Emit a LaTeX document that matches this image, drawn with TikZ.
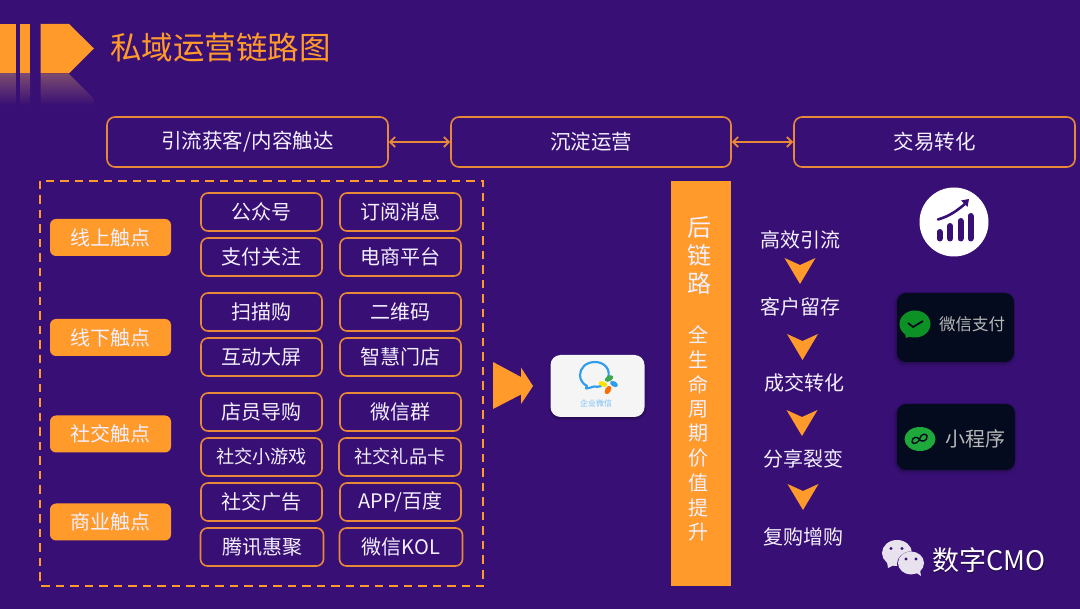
\documentclass[tikz,border=0pt]{standalone}
\usepackage{fontspec}
\setmainfont{Noto Sans CJK SC}
\usetikzlibrary{arrows.meta,shadows.blur}
\definecolor{bg}{HTML}{380F75}
\definecolor{org}{HTML}{FF9A2B}
\definecolor{edgeorg}{HTML}{E8893A}
\definecolor{txt}{HTML}{F4F0FF}
\definecolor{tile}{HTML}{040B1E}
\definecolor{wgreen}{HTML}{0C9124}
\definecolor{mgreen}{HTML}{1FA83C}
\definecolor{wblue}{HTML}{2E9BEE}
\definecolor{refl}{HTML}{7A4A70}
\tikzset{
 topbox/.style={draw=edgeorg,line width=1.6pt,rounded corners=8pt,minimum width=281pt,minimum height=50pt,inner sep=0pt,text=txt,font=\fontsize{20.5}{24}\selectfont},
 sbox/.style={draw=edgeorg,line width=1.6pt,rounded corners=7pt,minimum width=121pt,minimum height=38pt,inner sep=0pt,text=txt,font=\fontsize{20}{24}\selectfont},
 touch/.style={fill=org,rounded corners=6pt,minimum width=121pt,minimum height=37pt,inner sep=0pt,text=txt,font=\fontsize{20}{24}\selectfont},
 step label/.style={text=txt,inner sep=0pt,font=\fontsize{20}{24}\selectfont},
 chev/.style={fill=org,draw=none},
 bartxt/.style={text=txt,inner sep=0pt,font=\fontsize{20}{24}\selectfont},
 barbig/.style={text=txt,inner sep=0pt,font=\fontsize{24}{28}\selectfont},
 smallfont/.style={font=\fontsize{18.2}{22}\selectfont},
 linkarrow/.style={draw=edgeorg,line width=1.9pt,{Straight Barb[length=5pt,width=10pt]}-{Straight Barb[length=5pt,width=10pt]}},
 tileshadow/.style={blur shadow={shadow blur steps=6,shadow xshift=-1pt,shadow yshift=-1.5pt,shadow blur radius=3pt}}
}
\begin{document}
\begin{tikzpicture}[x=1pt,y=-1pt]
\useasboundingbox (0,0) rectangle (1080,609);
\fill[bg] (0,0) rectangle (1080,609);
% header mark
\fill[org] (0,24) rectangle (15.5,73.5);
\fill[org] (20,24) rectangle (30,73.5);
\fill[org] (40.5,24) -- (69,24) -- (94,48.5) -- (69,73.5) -- (40.5,73.5) -- cycle;
\shade[top color=refl,bottom color=bg] (0,74) rectangle (15.5,105);
\shade[top color=refl,bottom color=bg] (20,74) rectangle (30,105);
\shade[top color=refl,bottom color=bg] (40.5,74) -- (69,74) -- (94,99) -- (94,105) -- (40.5,105) -- cycle;
\node[text=org,inner sep=0pt,anchor=west,font=\fontsize{31.5}{36}\selectfont] (title) at (110,47.5) {私域运营链路图};
% top row
\node[topbox] (t1) at (247.5,142) {\raisebox{-1pt}{引流获客/内容触达}};
\node[topbox,minimum width=280pt] (t2) at (591,142) {\raisebox{-1pt}{沉淀运营}};
\node[topbox] (t3) at (934.5,142) {\raisebox{-1pt}{交易转化}};
\draw[linkarrow] (t1) -- (t2);
\draw[linkarrow] (t2) -- (t3);
% dashed frame
\draw[org,line width=1.6pt,dash pattern=on 8.5pt off 6pt] (40,181) rectangle (483,586);
% touch labels
\node[touch] (n1) at (110.5,237.5) {线上触点};
\node[touch] (n2) at (110.5,337.5) {线下触点};
\node[touch] (n3) at (110.5,434) {社交触点};
\node[touch] (n4) at (110.5,522) {商业触点};
% small boxes
\node[sbox] (a1) at (261.5,212) {公众号};
\node[sbox] (b1) at (400.5,212) {订阅消息};
\node[sbox] (a2) at (261.5,257) {支付关注};
\node[sbox] (b2) at (400.5,257) {电商平台};
\node[sbox] (a3) at (261.5,312) {扫描购};
\node[sbox] (b3) at (400.5,312) {二维码};
\node[sbox] (a4) at (261.5,357) {互动大屏};
\node[sbox] (b4) at (400.5,357) {智慧门店};
\node[sbox] (a5) at (261.5,412) {店员导购};
\node[sbox] (b5) at (400.5,412) {微信群};
\node[sbox,smallfont] (a6) at (261.5,457) {社交小游戏};
\node[sbox,smallfont,minimum width=122pt] (b6) at (400,457) {社交礼品卡};
\node[sbox] (a7) at (261.5,502) {社交广告};
\node[sbox] (b7) at (400.5,502) {APP/百度};
\node[sbox,minimum width=123pt] (a8) at (262,547) {腾讯惠聚};
\node[sbox,minimum width=123pt] (b8) at (401,547) {微信KOL};
% big arrow
\fill[org] (493,362) -- (521,377) -- (521,367.5) -- (533,386) -- (521,404) -- (521,394.5) -- (493,409) -- cycle;
% WeCom tile
\node[fill=white!96!black,rounded corners=10pt,minimum width=94pt,minimum height=62pt,inner sep=0pt,blur shadow={shadow blur steps=5,shadow xshift=0pt,shadow yshift=-1.5pt,shadow blur radius=2.5pt}] (wecom) at (597.5,386) {};
\draw[wblue,line width=2.1pt,line cap=round,line join=round] (608,378) .. controls (611,369) and (604,362) .. (595,362) .. controls (586,362) and (580,368) .. (580,375) .. controls (580,380) and (583,384) .. (587,386) -- (586,388.5) .. controls (590,388) and (592,387) .. (594,386.5) .. controls (596,387) and (599,387) .. (601,386);
\fill[wgreen!80!white,rotate around={30:(609,378.5)}] (609,378.5) ellipse (4.5 and 2.8);
\fill[yellow!85!orange,rotate around={-20:(603,384)}] (603,384) ellipse (4.5 and 2.6);
\fill[wblue,rotate around={-30:(614,384)}] (614,384) ellipse (4.2 and 2.6);
\fill[orange!85!red,rotate around={60:(608,390)}] (608,390) ellipse (4.5 and 2.8);
\node[text=wblue!65!white,inner sep=0pt,font=\fontsize{8}{9}\selectfont] (wecomtxt) at (596,403.5) {企业微信};
% orange bar
\fill[org] (671,181) rectangle (731,586);
\node[barbig] (h1) at (699,228) {后};
\node[barbig] (h2) at (699,255.5) {链};
\node[barbig] (h3) at (699,283) {路};
\node[bartxt] (v1) at (698,335) {全};
\node[bartxt] (v2) at (698,360) {生};
\node[bartxt] (v3) at (698,384.5) {命};
\node[bartxt] (v4) at (698,409) {周};
\node[bartxt] (v5) at (698,433.5) {期};
\node[bartxt] (v6) at (698,458) {价};
\node[bartxt] (v7) at (698,483) {值};
\node[bartxt] (v8) at (698,507.5) {提};
\node[bartxt] (v9) at (698,532) {升};
% steps
\node[step label] (s1) at (800,239.5) {高效引流};
\node[step label] (s2) at (800,306.5) {客户留存};
\node[step label] (s3) at (804,382.5) {成交转化};
\node[step label] (s4) at (803,458.5) {分享裂变};
\node[step label] (s5) at (803,536.5) {复购增购};
\foreach \cx/\cy in {800/258,802.5/334,802/410,803/484}{
 \fill[chev] (\cx-15.5,\cy) -- (\cx,\cy+7) -- (\cx+15.5,\cy) -- (\cx,\cy+26) -- cycle;
}
% chart icon
\fill[white] (954,222) circle (34.5);
\foreach \bx/\by in {939.5/232,950/226,960.5/221,970.5/216}{
 \draw[bg,line width=6pt,line cap=round] (\bx,\by) -- (\bx,238.5);
}
\draw[bg,line width=2.6pt,line cap=round] (938,219.5) .. controls (950,216) and (958,210) .. (966,203);
\fill[bg] (961,200.5) -- (969,199) -- (967.5,207) -- cycle;
% wechat pay tile
\fill[tile,rounded corners=9pt,tileshadow] (897,293) rectangle (1014,362);
\fill[wgreen] (915,324) ellipse (15.5 and 13.5);
\fill[wgreen] (905,333) -- (906,338) -- (913,335) -- cycle;
\draw[tile,line width=1.8pt] (908,323) -- (913,327) -- (923,321);
\node[text=white!72!black,inner sep=0pt,font=\fontsize{16.5}{20}\selectfont] (paytxt) at (972,324.5) {微信支付};
% mini program tile
\fill[tile,rounded corners=9pt,tileshadow] (897,404) rectangle (1015,470);
\fill[mgreen] (920,439) ellipse (15.5 and 12);
\draw[tile,line width=1.4pt,line cap=round] (912,442) .. controls (912,437) and (917,436) .. (919,439) .. controls (921,443) and (928,441) .. (927,436) .. controls (926,433) and (921,434) .. (920,438) .. controls (919,443) and (913,445) .. (912,442);
\node[text=white!72!black,inner sep=0pt,font=\fontsize{20}{24}\selectfont] (minitxt) at (975,439) {小程序};
% wechat logo
\fill[white!88!bg] (897,553) ellipse (15 and 13);
\fill[white!88!bg] (887,562) -- (888,568) -- (894,565) -- cycle;
\fill[bg] (891,548.5) circle (1.7);
\fill[bg] (902,548.5) circle (1.7);
\fill[bg] (911,564) ellipse (14 and 12.5);
\fill[white!88!bg] (911,563) ellipse (13 and 11.5);
\fill[white!88!bg] (915,572) -- (921,576) -- (920,570) -- cycle;
\fill[bg] (906,559) circle (1.6);
\fill[bg] (916,559) circle (1.6);
\node[text=black!50!bg,inner sep=0pt,anchor=west,font=\fontsize{27}{30}\selectfont] (brandsh) at (932.7,560.7) {数字CMO};
\node[text=white,inner sep=0pt,anchor=west,font=\fontsize{27}{30}\selectfont] (brand) at (932,560) {数字CMO};
\end{tikzpicture}
\end{document}
